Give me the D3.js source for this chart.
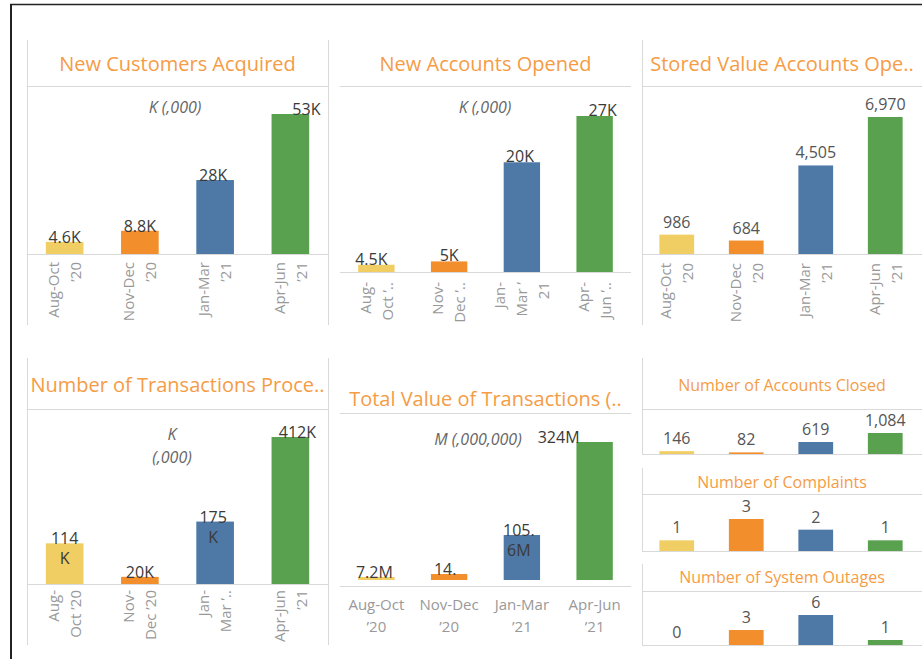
<!DOCTYPE html>
<html>
<head>
<meta charset="utf-8">
<script src="https://cdn.jsdelivr.net/npm/d3@7"></script>
<style>
body { margin: 0; background: #fff; }
svg { display: block; font-family: "Open Sans", sans-serif; }
</style>
</head>
<body>
<svg width="922" height="659"></svg>
<script>
var periods = ["Aug-Oct '20", "Nov-Dec '20", "Jan-Mar '21", "Apr-Jun '21"];
var periodColors = ["#f1ce63", "#f28e2b", "#4e79a7", "#59a14f"];

var newCustomers = [4600, 8800, 28000, 53000];
var newAccounts = [4500, 5000, 20000, 27000];
var storedValueAccounts = [986, 684, 4505, 6970];
var transactions = [114000, 20000, 175000, 412000];
var transactionValue = [7.2, 14, 105.6, 324]; // millions
var accountsClosed = [146, 82, 619, 1084];
var complaints = [1, 3, 2, 1];
var outages = [0, 3, 6, 1];

// mark labels as shown (wrapped / truncated like the original)
var newCustomersLabels = [["4.6K"], ["8.8K"], ["28K"], ["53K"]];
var newAccountsLabels = [["4.5K"], ["5K"], ["20K"], ["27K"]];
var transactionsLabels = [["114", "K"], ["20K"], ["175", "K"], ["412K"]];
var transactionValueLabels = [["7.2M"], ["14."], ["105.", "6M"], ["324M"]];

// tick labels per panel, one array of lines per period
var ticksFull = [["Aug-Oct", "’20"], ["Nov-Dec", "’20"], ["Jan-Mar", "’21"], ["Apr-Jun", "’21"]];
var ticksAccounts = [["Aug-", "Oct ’.."], ["Nov-", "Dec ’.."], ["Jan-", "Mar ’", "21"], ["Apr-", "Jun ’.."]];
var ticksTransactions = [["Aug-", "Oct ’20"], ["Nov-", "Dec ’20"], ["Jan-", "Mar ’.."], ["Apr-Jun", "’21"]];

var svg = d3.select("svg");
var fmt = d3.format(",d");

var col1 = [27, 328], col2 = [340, 631], col3 = [642, 920];

var panels = [
  { title: "New Customers Acquired", values: newCustomers, labels: newCustomersLabels, ticks: ticksFull,
    x: col1, sides: [27, 328], top: 40, bottom: 325, sep: 86, titleY: 71, titleSize: 20,
    base: 254, peak: 114, labelStyle: "inside", labelDy: 1, labelDx: [0, 0, -2, 16],
    note: ["K (,000)"], noteX: 175, noteY: 113, tickY: 262, rotated: true },
  { title: "New Accounts Opened", values: newAccounts, labels: newAccountsLabels, ticks: ticksAccounts,
    x: col2, sides: [], sep: 86, titleY: 71, titleSize: 20, yMin: 3400,
    base: 272, peak: 116, labelStyle: "inside", labelDy: 0, labelDx: [-5, 0, -2, 8],
    note: ["K (,000)"], noteX: 485, noteY: 113, tickY: 282, rotated: true },
  { title: "Stored Value Accounts Ope..", values: storedValueAccounts, ticks: ticksFull,
    x: col3, sides: [642], top: 40, bottom: 325, sep: 86, titleY: 71, titleSize: 20,
    base: 254, peak: 117, labelStyle: "above", tickY: 263, rotated: true },
  { title: "Number of Transactions Proce..", values: transactions, labels: transactionsLabels, ticks: ticksTransactions,
    x: col1, sides: [27, 328], top: 358, bottom: 645, sep: 409, titleY: 392, titleSize: 20,
    base: 584, peak: 437, labelStyle: "inside", labelDy: 1, labelDx: [0, 0, -2, 7],
    note: ["K", "(,000)"], noteX: 172, noteY: 440, tickY: 590, rotated: true },
  { title: "Total Value of Transactions (..", values: transactionValue, labels: transactionValueLabels, ticks: ticksFull,
    x: col2, sides: [], sep: 413, titleY: 406, titleSize: 20, axisY: 586,
    base: 580, peak: 442, labelStyle: "inside", labelDy: 1, labelDx: [-2, -4, -3, -36],
    note: ["M (,000,000)"], noteX: 478, noteY: 445, tickY: 610, rotated: false },
  { title: "Number of Accounts Closed", values: accountsClosed,
    x: col3, sides: [642], top: 358, bottom: 454, sep: 409, titleY: 391, titleSize: 16,
    base: 454, peak: 433, labelStyle: "above" },
  { title: "Number of Complaints", values: complaints,
    x: col3, sides: [642], top: 468, bottom: 551, sep: 494, titleY: 488, titleSize: 16,
    base: 551, peak: 519, labelStyle: "above" },
  { title: "Number of System Outages", values: outages,
    x: col3, sides: [642], top: 564, bottom: 645, sep: 591, titleY: 583, titleSize: 16,
    base: 645, peak: 615, labelStyle: "above" }
];

// outer frame
svg.append("line").attr("x1", 10).attr("x2", 922).attr("y1", 4.5).attr("y2", 4.5)
    .attr("stroke", "#222").attr("stroke-width", 1.5);
svg.append("line").attr("x1", 11).attr("x2", 11).attr("y1", 4).attr("y2", 659)
    .attr("stroke", "#222").attr("stroke-width", 2);

panels.forEach(drawPanel);

function drawPanel(p) {
  var g = svg.append("g");
  var lineX = [p.x[0], p.x === col3 ? 922 : p.x[1]];

  var x = d3.scaleBand()
      .domain(periods)
      .range(p.x)
      .paddingInner(0.5)
      .paddingOuter(0.25);

  var y = d3.scaleLinear()
      .domain([p.yMin || 0, d3.max(p.values)])
      .range([p.base, p.peak]);

  // borders
  p.sides.forEach(function(sx) {
    g.append("line").attr("x1", sx + 0.5).attr("x2", sx + 0.5)
        .attr("y1", p.top).attr("y2", p.bottom)
        .attr("stroke", "#d9d9d9");
  });
  g.append("line").attr("x1", lineX[0]).attr("x2", lineX[1])
      .attr("y1", p.sep + 0.5).attr("y2", p.sep + 0.5)
      .attr("stroke", "#d9d9d9");

  g.append("text")
      .attr("x", (lineX[0] + lineX[1]) / 2)
      .attr("y", p.titleY)
      .attr("text-anchor", "middle")
      .attr("fill", "#f59c45")
      .style("font-size", p.titleSize + "px")
      .text(p.title);

  var rows = p.values.map(function(v, i) {
    return { period: periods[i], value: v, color: periodColors[i], i: i };
  });

  g.selectAll(".bar")
    .data(rows)
    .enter().append("rect")
      .attr("class", "bar")
      .attr("x", function(d) { return x(d.period); })
      .attr("width", x.bandwidth())
      .attr("y", function(d) { return Math.min(y(d.value), p.base); })
      .attr("height", function(d) { return Math.max(0, p.base - y(d.value)); })
      .attr("fill", function(d) { return d.color; });

  // axis baseline
  var axisY = p.axisY || p.base;
  g.append("line").attr("x1", lineX[0]).attr("x2", lineX[1])
      .attr("y1", axisY + 0.5).attr("y2", axisY + 0.5)
      .attr("stroke", "#d9d9d9");

  // mark labels
  var lab = g.selectAll(".lab")
    .data(rows)
    .enter().append("text")
      .attr("class", "lab")
      .attr("text-anchor", "middle");

  if (p.labelStyle === "inside") {
    lab.attr("fill", "#3a3a3a")
        .style("font-size", "16px")
        .each(function(d) {
          var t = d3.select(this),
              cx = x(d.period) + x.bandwidth() / 2 + (p.labelDx ? p.labelDx[d.i] : 0),
              ty = y(d.value) + p.labelDy;
          p.labels[d.i].forEach(function(line, j) {
            t.append("tspan").attr("x", cx).attr("y", ty + j * 20).text(line);
          });
        });
  } else {
    lab.attr("fill", "#555")
        .style("font-size", "16px")
        .attr("x", function(d) { return x(d.period) + x.bandwidth() / 2; })
        .attr("y", function(d) { return Math.min(y(d.value), p.base) - 7; })
        .text(function(d) { return fmt(d.value); });
  }

  // unit note
  if (p.note) {
    p.note.forEach(function(line, j) {
      g.append("text")
          .attr("x", p.noteX)
          .attr("y", p.noteY + j * 23)
          .attr("text-anchor", "middle")
          .attr("fill", "#666")
          .style("font-size", "16px")
          .style("font-style", "italic")
          .text(line);
    });
  }

  // period tick labels
  if (p.ticks) {
    rows.forEach(function(d) {
      var cx = x(d.period) + x.bandwidth() / 2,
          lines = p.ticks[d.i];
      lines.forEach(function(line, j) {
        var t = g.append("text")
            .attr("fill", "#999")
            .style("font-size", "15px")
            .text(line);
        if (p.rotated) {
          var off = (j - (lines.length - 1) / 2) * 22;
          t.attr("text-anchor", "end")
              .attr("dy", "0.35em")
              .attr("transform", "translate(" + (cx + off) + "," + p.tickY + ") rotate(-90)");
        } else {
          t.attr("text-anchor", "middle")
              .attr("x", cx)
              .attr("y", p.tickY + j * 22);
        }
      });
    });
  }
}
</script>
</body>
</html>
